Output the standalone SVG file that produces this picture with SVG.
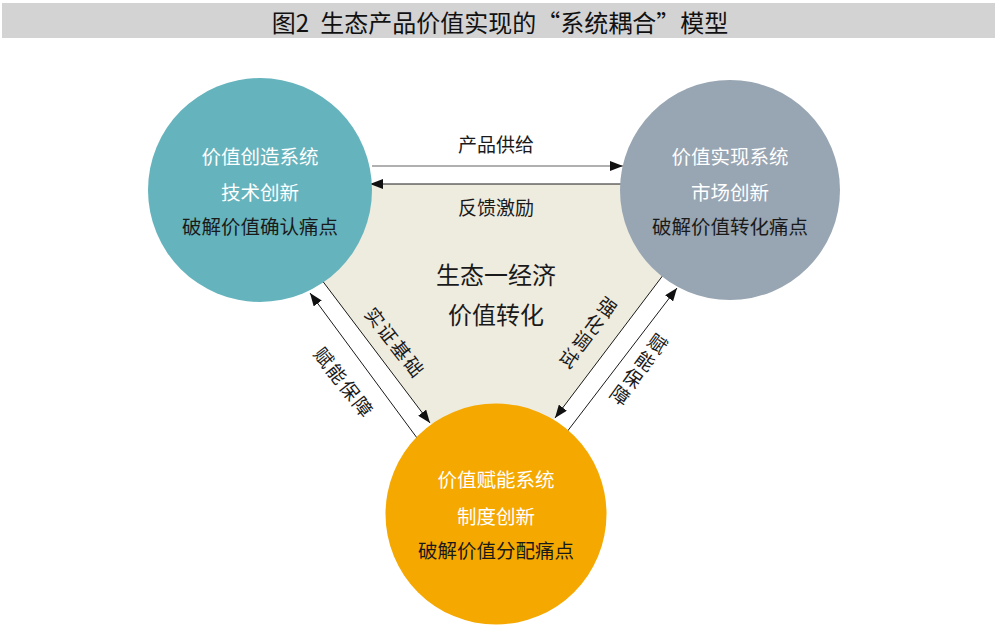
<svg xmlns="http://www.w3.org/2000/svg" width="1000" height="636" viewBox="0 0 1000 636">
<style>
text{font-family:"Noto Sans CJK SC","Noto Sans",sans-serif;}
.t{font-size:19.5px;text-anchor:middle;dominant-baseline:central;}
.w{fill:#ffffff;}
.d{fill:#1a1a1a;}
.lbl{font-size:19px;text-anchor:middle;dominant-baseline:central;fill:#1a1a1a;}
.rl{font-size:19px;text-anchor:middle;dominant-baseline:central;fill:#1a1a1a;}
.ln{stroke:#1a1a1a;stroke-width:1;fill:none;}
</style>
<defs>
<marker id="ah" markerUnits="userSpaceOnUse" markerWidth="13" markerHeight="10" refX="13" refY="5" orient="auto">
<path d="M0,0 L13,5 L0,10 z" fill="#111"/>
</marker>
</defs>
<rect x="2" y="3" width="993" height="35" fill="#d3d3d3"/>
<text x="500" y="21" style="font-size:24px;text-anchor:middle;dominant-baseline:central;fill:#111">图2<tspan dx="11">生态产品价值实现的“系统耦合”模型</tspan></text>
<polygon points="248,184 732,184 491,503" fill="#eeebdf"/>
<g id="connectors">
<line x1="372" y1="166" x2="623" y2="166" stroke="#b0b0b0" stroke-width="2" marker-end="url(#ah)"/>
<line class="ln" x1="622" y1="184" x2="370" y2="184" marker-end="url(#ah)"/>
<line class="ln" x1="315" y1="271" x2="430" y2="423" marker-end="url(#ah)"/>
<line class="ln" x1="420" y1="442" x2="310" y2="293" marker-end="url(#ah)"/>
<line class="ln" x1="670" y1="266" x2="555" y2="418" marker-end="url(#ah)"/>
<line class="ln" x1="563" y1="437" x2="677" y2="288" marker-end="url(#ah)"/>
<text class="lbl" x="496" y="143">产品供给</text>
<text class="lbl" x="496" y="206">反馈激励</text>
<text class="rl" transform="translate(345,382) rotate(52)" letter-spacing="2">赋能保障</text>
<text class="rl" transform="translate(396,342) rotate(52)" letter-spacing="2">实证基础</text>
<text class="rl" transform="translate(589,331) rotate(37)"><tspan x="0" y="-32">强</tspan><tspan x="0" y="-10.5">化</tspan><tspan x="0" y="10.5">调</tspan><tspan x="0" y="32">试</tspan></text>
<text class="rl" transform="translate(640,368) rotate(36)"><tspan x="0" y="-32">赋</tspan><tspan x="0" y="-10.5">能</tspan><tspan x="0" y="10.5">保</tspan><tspan x="0" y="32">障</tspan></text>
</g>
<g id="center-label">
<text x="496" y="273" style="font-size:24px;text-anchor:middle;dominant-baseline:central;fill:#1a1a1a">生态一经济</text>
<text x="496" y="313" style="font-size:24px;text-anchor:middle;dominant-baseline:central;fill:#1a1a1a">价值转化</text>
</g>
<g id="node-create">
<circle cx="260" cy="190" r="112" fill="#65b3bd"/>
<text class="t w" x="260" y="155">价值创造系统</text>
<text class="t w" x="260" y="191">技术创新</text>
<text class="t d" x="260" y="225">破解价值确认痛点</text>
</g>
<g id="node-realize">
<circle cx="730" cy="190" r="110" fill="#98a5b2"/>
<text class="t w" x="730" y="155">价值实现系统</text>
<text class="t w" x="730" y="191">市场创新</text>
<text class="t d" x="730" y="225">破解价值转化痛点</text>
</g>
<g id="node-enable">
<circle cx="496" cy="514" r="110.5" fill="#f5a800"/>
<text class="t w" x="496" y="478">价值赋能系统</text>
<text class="t w" x="496" y="515">制度创新</text>
<text class="t d" x="496" y="549">破解价值分配痛点</text>
</g>
</svg>
